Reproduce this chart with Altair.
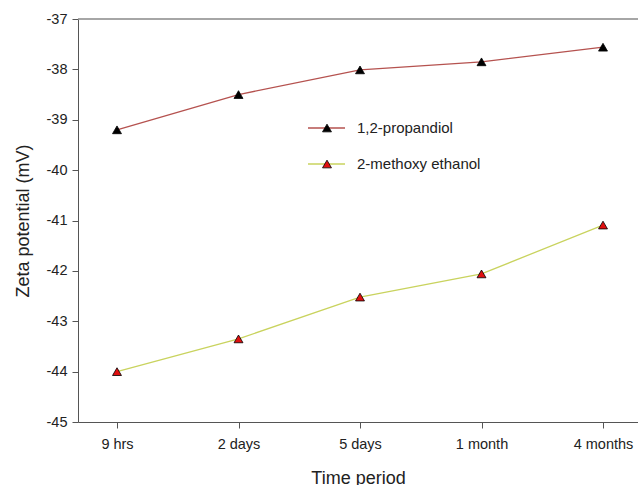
import altair as alt
import pandas as pd

periods = ["9 hrs", "2 days", "5 days", "1 month", "4 months"]
series_names = ["1,2-propandiol", "2-methoxy ethanol"]
propandiol = [-39.2, -38.5, -38.01, -37.85, -37.56]
methoxy = [-44.0, -43.35, -42.52, -42.06, -41.09]

line_colors = ["#b5524f", "#c9d35e"]
marker_fills = ["#000000", "#e01010"]

rows = []
for i, p in enumerate(periods):
    rows.append({"idx": i, "period": p, "series": series_names[0], "value": propandiol[i]})
    rows.append({"idx": i, "period": p, "series": series_names[1], "value": methoxy[i]})
df = pd.DataFrame(rows)

FONT = "Liberation Sans"
label_expr = "[" + ",".join("'" + p + "'" for p in periods) + "][datum.value]"

x_enc = alt.X("idx:Q",
              scale=alt.Scale(domain=[-0.321, 4.288], nice=False, zero=False),
              axis=alt.Axis(values=list(range(len(periods))), labelExpr=label_expr,
                            title="Time period", grid=False, tickSize=6,
                            labelPadding=9, titlePadding=19, labelFontSize=14.5,
                            titleFontSize=18, labelFont=FONT, titleFont=FONT,
                            labelColor="#222", titleColor="#222", titleFontWeight="normal",
                            domainColor="#555", tickColor="#555"))
y_enc = alt.Y("value:Q",
              scale=alt.Scale(domain=[-45, -37], nice=False, zero=False),
              axis=alt.Axis(values=list(range(-45, -36)), labelExpr="'' + datum.value",
                            title="Zeta potential (mV)",
                            grid=False, tickSize=6, labelPadding=5, titlePadding=14,
                            labelFontSize=14.5, titleFontSize=18, labelFont=FONT,
                            titleFont=FONT, labelColor="#222", titleColor="#222",
                            titleFontWeight="normal", domainColor="#555", tickColor="#555"))

color_scale = alt.Scale(domain=series_names, range=line_colors)
fill_scale = alt.Scale(domain=series_names, range=marker_fills)

lines = alt.Chart(df).mark_line(strokeWidth=1.3).encode(
    x=x_enc, y=y_enc, color=alt.Color("series:N", scale=color_scale, legend=None),
    detail="series:N")

points = alt.Chart(df).mark_point(shape="triangle-up", filled=True, size=80,
                                  stroke="#000", strokeWidth=0.8, opacity=1).encode(
    x="idx:Q", y="value:Q",
    fill=alt.Fill("series:N", scale=fill_scale, legend=None))

top_df = pd.DataFrame({"value": [-37]})
top_rule = alt.Chart(top_df).mark_rule(color="#888", strokeWidth=1.5).encode(
    y="value:Q", x=alt.value(0), x2=alt.value(560))

legend_layers = []
legend_y = [109, 145]
for name, lc, mf, ly in zip(series_names, line_colors, marker_fills, legend_y):
    ldf = pd.DataFrame({"series": [name]})
    legend_layers.append(alt.Chart(ldf).mark_rule(color=lc, strokeWidth=1.3).encode(
        x=alt.value(230), x2=alt.value(267), y=alt.value(ly)))
    legend_layers.append(alt.Chart(ldf).mark_point(shape="triangle-up", filled=True, size=80,
                                                   fill=mf, stroke="#000", strokeWidth=0.8,
                                                   opacity=1).encode(
        x=alt.value(249), y=alt.value(ly)))
    legend_layers.append(alt.Chart(ldf).mark_text(align="left", baseline="middle",
                                                  fontSize=15, font=FONT, color="#222").encode(
        x=alt.value(279), y=alt.value(ly), text="series:N"))

chart = alt.layer(top_rule, lines, points, *legend_layers).properties(
    width=560, height=403,
    autosize=alt.AutoSizeParams(type="none"),
    padding={"left": 78, "top": 19, "right": 0, "bottom": 63},
    background="white",
).configure_view(stroke=None)

chart.save("out.html", embed_options={"renderer": "svg", "actions": False})
